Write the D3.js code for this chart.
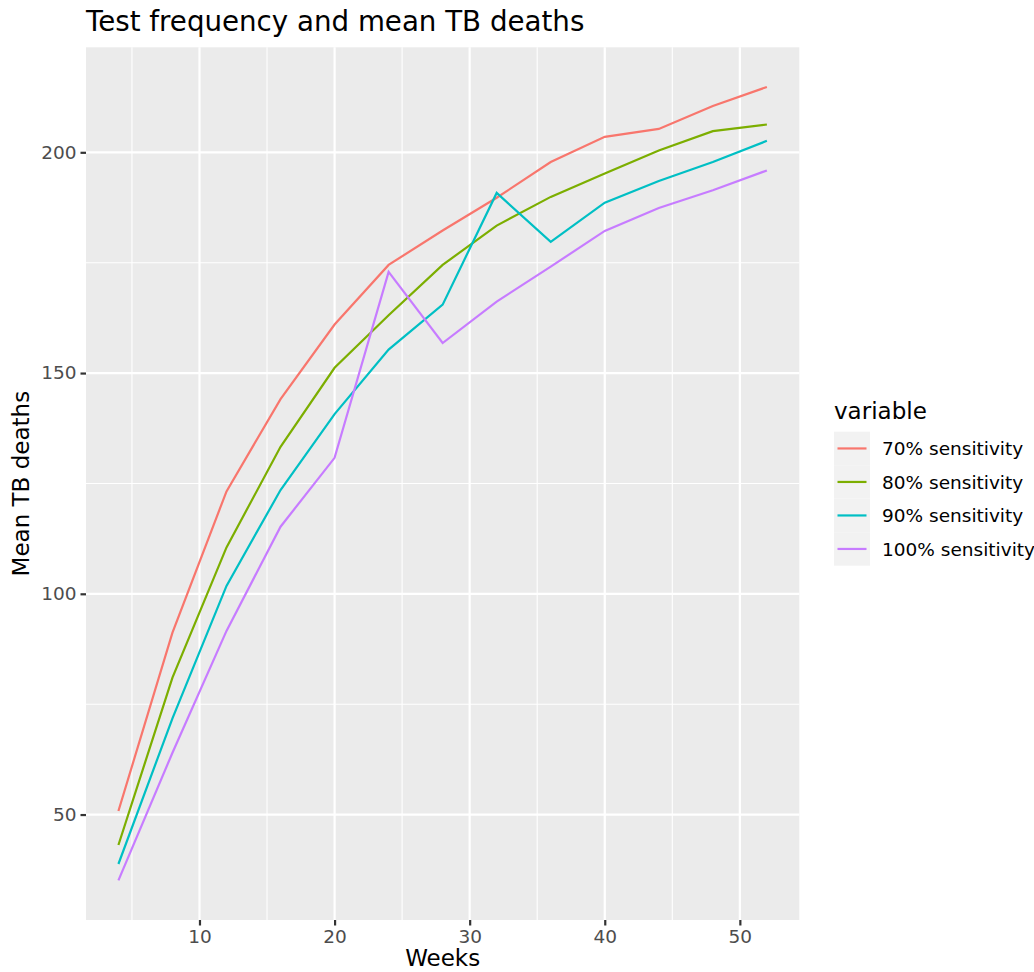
<!DOCTYPE html>
<html lang="en">
<head>
    <meta charset="UTF-8">
    <script src="https://d3js.org/d3.v7.min.js"></script>
    <title>Test frequency and mean TB deaths</title>
    <style>
        body { margin: 0; background: #fff; }
        svg { font-family: "DejaVu Sans", sans-serif; }
    </style>
</head>
<body>
    <svg width="1034" height="972"></svg>

    <script>
        // data
        var weeks = [4, 8, 12, 16, 20, 24, 28, 32, 36, 40, 44, 48, 52];
        var seriesNames = ["70% sensitivity", "80% sensitivity", "90% sensitivity", "100% sensitivity"];
        var sens70 = [50.8, 91.2, 123.2, 144.1, 161.0, 174.5, 182.3, 189.7, 197.8, 203.5, 205.3, 210.5, 214.8];
        var sens80 = [43.1, 81.0, 110.5, 133.3, 151.2, 163.1, 174.5, 183.4, 189.9, 195.2, 200.4, 204.8, 206.3];
        var sens90 = [38.8, 71.8, 101.8, 123.5, 140.7, 155.3, 165.5, 190.8, 179.7, 188.6, 193.5, 197.8, 202.6];
        var sens100 = [35.1, 64.0, 91.6, 115.2, 130.8, 172.9, 156.8, 166.2, 174.1, 182.2, 187.4, 191.4, 195.9];
        var colors = ["#F8766D", "#7CAE00", "#00BFC4", "#C77CFF"];
        var xTicks = [10, 20, 30, 40, 50];
        var yTicks = [50, 100, 150, 200];

        var allSeries = [sens70, sens80, sens90, sens100];

        document.addEventListener('DOMContentLoaded', function () {
            var svg = d3.select('svg');
            var pLeft = 86, pRight = 799.3, pTop = 47.3, pBottom = 920;

            // ggplot style 5% expansion
            var xMin = d3.min(weeks), xMax = d3.max(weeks);
            var xPad = (xMax - xMin) * 0.05;
            var yMin = d3.min(allSeries, s => d3.min(s)), yMax = d3.max(allSeries, s => d3.max(s));
            var yPad = (yMax - yMin) * 0.05;

            var xScale = d3.scaleLinear().domain([xMin - xPad, xMax + xPad]).range([pLeft, pRight]);
            var yScale = d3.scaleLinear().domain([yMin - yPad, yMax + yPad]).range([pBottom, pTop]);

            svg.append("rect")
                .attr("x", pLeft).attr("y", pTop)
                .attr("width", pRight - pLeft).attr("height", pBottom - pTop)
                .attr("fill", "#EBEBEB");

            // minor grid
            var xMinor = [5, 15, 25, 35, 45].filter(d => xScale(d) >= pLeft && xScale(d) <= pRight);
            var yMinor = [75, 125, 175].filter(d => yScale(d) <= pBottom && yScale(d) >= pTop);

            svg.append("g").selectAll("line")
                .data(xMinor).enter().append("line")
                .attr("x1", d => xScale(d)).attr("x2", d => xScale(d))
                .attr("y1", pTop).attr("y2", pBottom)
                .attr("stroke", "#fff").attr("stroke-width", 1.1);
            svg.append("g").selectAll("line")
                .data(yMinor).enter().append("line")
                .attr("x1", pLeft).attr("x2", pRight)
                .attr("y1", d => yScale(d)).attr("y2", d => yScale(d))
                .attr("stroke", "#fff").attr("stroke-width", 1.1);

            // major grid
            svg.append("g").selectAll("line")
                .data(xTicks).enter().append("line")
                .attr("x1", d => xScale(d)).attr("x2", d => xScale(d))
                .attr("y1", pTop).attr("y2", pBottom)
                .attr("stroke", "#fff").attr("stroke-width", 2.2);
            svg.append("g").selectAll("line")
                .data(yTicks).enter().append("line")
                .attr("x1", pLeft).attr("x2", pRight)
                .attr("y1", d => yScale(d)).attr("y2", d => yScale(d))
                .attr("stroke", "#fff").attr("stroke-width", 2.2);

            // axes
            var xAxis = d3.axisBottom(xScale).tickValues(xTicks).tickSize(5.5).tickPadding(4);
            var yAxis = d3.axisLeft(yScale).tickValues(yTicks).tickSize(5.5).tickPadding(4);

            var gx = svg.append("g")
                .attr("transform", "translate(0," + pBottom + ")")
                .call(xAxis);
            var gy = svg.append("g")
                .attr("transform", "translate(" + pLeft + ",0)")
                .call(yAxis);

            [gx, gy].forEach(g => {
                g.select(".domain").remove();
                g.selectAll(".tick line").attr("stroke", "#333333").attr("stroke-width", 2.2);
                g.selectAll(".tick text")
                    .attr("fill", "#4D4D4D")
                    .style("font-size", "18.5px")
                    .style("font-family", "DejaVu Sans, sans-serif");
            });

            // lines
            var line = d3.line()
                .x((d, i) => xScale(weeks[i]))
                .y(d => yScale(d));

            svg.append("g").selectAll("path")
                .data(allSeries).enter().append("path")
                .attr("d", d => line(d))
                .attr("fill", "none")
                .attr("stroke", (d, i) => colors[i])
                .attr("stroke-width", 2.2);

            // titles
            svg.append("text")
                .attr("x", pLeft).attr("y", 31)
                .style("font-size", "27.7px")
                .attr("fill", "#000")
                .text("Test frequency and mean TB deaths");

            svg.append("text")
                .attr("x", (pLeft + pRight) / 2).attr("y", 966)
                .attr("text-anchor", "middle")
                .style("font-size", "23px")
                .text("Weeks");

            svg.append("text")
                .attr("transform", "translate(29," + ((pTop + pBottom) / 2) + ") rotate(-90)")
                .attr("text-anchor", "middle")
                .style("font-size", "23px")
                .text("Mean TB deaths");

            // legend
            var legend = svg.append("g").attr("transform", "translate(834,0)");
            legend.append("text")
                .attr("x", 0).attr("y", 419)
                .style("font-size", "23px")
                .text("variable");

            var keyH = 33.5, keyTop = 431.7;
            var keys = legend.selectAll("g.key")
                .data(seriesNames).enter().append("g")
                .attr("class", "key")
                .attr("transform", (d, i) => "translate(0," + (keyTop + i * keyH) + ")");
            keys.append("rect")
                .attr("width", 36).attr("height", keyH)
                .attr("fill", "#F2F2F2");
            keys.append("line")
                .attr("x1", 3.5).attr("x2", 32.5)
                .attr("y1", keyH / 2).attr("y2", keyH / 2)
                .attr("stroke", (d, i) => colors[i])
                .attr("stroke-width", 2.2);
            keys.append("text")
                .attr("x", 48).attr("y", keyH / 2)
                .attr("dy", "0.36em")
                .style("font-size", "18.5px")
                .text(d => d);
        });
    </script>
</body>
</html>
